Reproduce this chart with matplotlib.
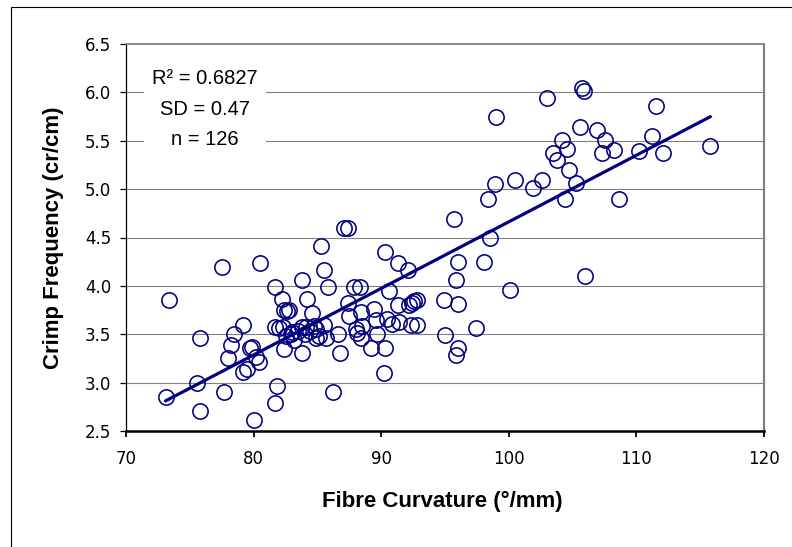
import numpy as np
import matplotlib.pyplot as plt
from matplotlib.patches import Rectangle

# fibre curvature (deg/mm) and crimp frequency (cr/cm)
curvature = [73.4, 73.1, 75.6, 75.8, 75.8, 77.5, 77.7, 78.0, 78.2, 78.5,
             79.2, 79.2, 79.5, 79.7, 79.9, 80.0, 80.2, 80.4, 80.5, 81.7,
             81.8, 81.7, 81.7, 82.2, 82.3, 82.4, 82.4, 82.6, 82.8, 82.5,
             82.9, 83.2, 83.5, 83.8, 83.8, 83.8, 84.1, 84.2, 84.4, 84.6,
             84.7, 84.9, 85.1, 85.3, 85.5, 85.5, 85.7, 85.85, 86.2, 86.6,
             86.8, 87.1, 87.4, 87.4, 87.5, 87.9, 88.3, 88.1, 88.4, 88.5,
             88.4, 89.2, 89.4, 89.6, 89.7, 90.2, 90.3, 90.3, 90.45, 90.6,
             90.85, 91.3, 91.3, 91.4, 92.1, 92.2, 92.4, 92.6, 92.3, 92.8,
             92.8, 94.9, 95.0, 95.7, 96.0, 95.9, 96.0, 96.0, 95.9, 97.4,
             98.05, 98.4, 98.5, 98.9, 99.0, 100.1, 100.5, 101.9, 102.6, 103.0,
             103.5, 103.8, 104.2, 104.4, 104.6, 104.7, 105.3, 105.6, 105.7, 105.9,
             106.0, 106.9, 107.3, 107.5, 108.25, 108.6, 110.2, 111.2, 111.5, 112.1,
             115.8, 82.0, 83.0, 84.0, 88.0, 84.9]
crimp = [3.85, 2.85, 3.00, 2.71, 3.46, 4.20, 2.90, 3.25, 3.39, 3.50,
         3.60, 3.11, 3.14, 3.36, 3.37, 2.61, 3.26, 3.21, 4.24, 3.99,
         2.96, 2.79, 3.57, 3.86, 3.57, 3.35, 3.75, 3.74, 3.75, 3.48,
         3.50, 3.44, 3.53, 4.06, 3.31, 3.57, 3.57, 3.86, 3.53, 3.72,
         3.59, 3.46, 3.48, 4.41, 4.16, 3.60, 3.46, 3.99, 2.90, 3.50,
         3.31, 4.60, 4.60, 3.82, 3.69, 3.99, 3.99, 3.51, 3.73, 3.59,
         3.46, 3.36, 3.76, 3.65, 3.50, 3.10, 4.35, 3.36, 3.66, 3.95,
         3.61, 3.80, 4.24, 3.63, 4.16, 3.80, 3.82, 3.84, 3.60, 3.60,
         3.85, 3.85, 3.49, 4.69, 4.25, 4.06, 3.81, 3.36, 3.29, 3.56,
         4.25, 4.90, 4.49, 5.05, 5.75, 3.96, 5.09, 5.01, 5.09, 5.94,
         5.37, 5.30, 5.51, 4.90, 5.41, 5.20, 5.06, 5.64, 6.05, 6.01,
         4.10, 5.61, 5.37, 5.51, 5.40, 4.90, 5.39, 5.55, 5.86, 5.37,
         5.45, 3.56, 3.52, 3.50, 3.55, 3.55]

# regression line as drawn on the chart
fit_slope = 0.0688
fit_intercept = -2.218
stats_lines = ["R² = 0.6827", "SD = 0.47", "n = 126"]

x_ticks = [70, 80, 90, 100, 110, 120]
y_ticks = [2.5, 3.0, 3.5, 4.0, 4.5, 5.0, 5.5, 6.0, 6.5]

navy = "#000080"
grey = "#808080"

fig = plt.figure(figsize=(7.92, 5.47), dpi=100)
fig.patches.append(Rectangle((11 / 792, -0.05), 1.1, 1 - 7 / 547 + 0.05,
                             transform=fig.transFigure, fill=False,
                             edgecolor="black", linewidth=0.8))
ax = fig.add_axes([126 / 792, 1 - 431 / 547, 638 / 792, 387 / 547])

ax.plot(curvature, crimp, linestyle="none", marker="o", markersize=11,
        markerfacecolor="none", markeredgecolor=navy, markeredgewidth=1.15,
        zorder=3)

xs = np.array([min(curvature), max(curvature)])
ax.plot(xs, fit_slope * xs + fit_intercept, color=navy, linewidth=2.3,
        solid_capstyle="round", zorder=4)

ax.set_xlim(70, 120)
ax.set_ylim(2.5, 6.5)
ax.set_xticks(x_ticks)
ax.set_yticks(y_ticks)
ax.set_yticklabels(["%.1f" % v for v in y_ticks])
for y in y_ticks[1:-1]:
    ax.axhline(y, color=grey, linewidth=0.8, zorder=1)

ax.spines["top"].set_color(grey)
ax.spines["top"].set_linewidth(1.3)
ax.spines["right"].set_color(grey)
ax.spines["right"].set_linewidth(1.6)
ax.spines["left"].set_linewidth(0.9)
ax.spines["bottom"].set_linewidth(1.8)
ax.tick_params(axis="x", direction="out", length=4.5, width=1.3, pad=9,
               labelsize=12)
ax.tick_params(axis="y", direction="out", length=4.5, width=0.9, pad=6,
               labelsize=12)

# white stats box
ax.add_patch(Rectangle((0.028, 0.695), 0.191, 0.258, transform=ax.transAxes,
                       facecolor="white", edgecolor="none", zorder=2))
for txt, yy in zip(stats_lines, [0.9096, 0.8295, 0.752]):
    ax.text(0.124, yy, txt, transform=ax.transAxes, ha="center", va="center",
            fontsize=14.5, family="Liberation Sans", zorder=5)

fig.text(442 / 792, 1 - 501 / 547, "Fibre Curvature (°/mm)", ha="center",
         va="center", fontsize=16, fontweight="bold", family="Liberation Sans")
fig.text(54 / 792, 1 - 238 / 547, "Crimp Frequency (cr/cm)", ha="center",
         va="center", rotation=90, fontsize=16, fontweight="bold",
         family="Liberation Sans")

fig.savefig("out.png", dpi=100)
